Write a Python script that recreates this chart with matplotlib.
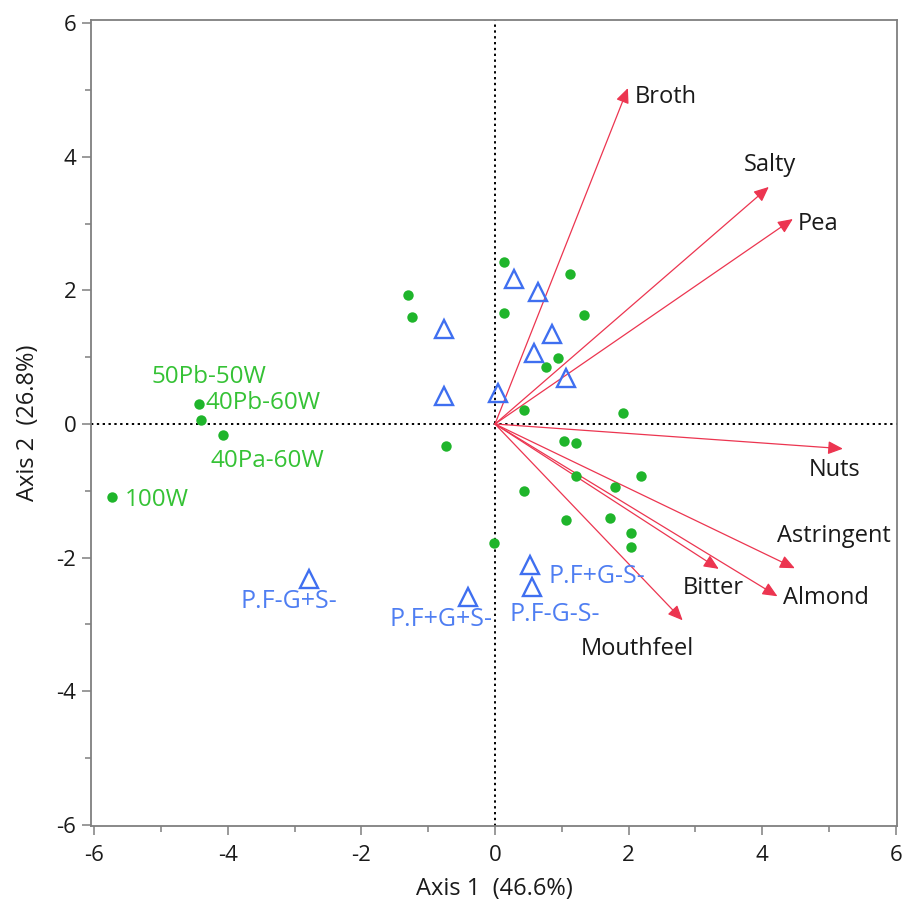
import matplotlib
matplotlib.use("Agg")
import matplotlib.pyplot as plt

plt.rcParams['font.family'] = ['Open Sans', 'DejaVu Sans']

# ---- data ----
green_x = [0.13, 1.12, -1.30, -1.24, 0.13, 1.34, 0.94, 0.77, 0.44, 1.91,
           -4.44, -4.41, -4.08, -0.73, 1.04, 1.22, 1.22, 2.19, 1.79, 0.44,
           1.07, 1.72, 2.03, 2.04, -0.02, -5.73]
green_y = [2.43, 2.24, 1.93, 1.60, 1.66, 1.63, 0.99, 0.85, 0.21, 0.16,
           0.30, 0.06, -0.16, -0.33, -0.25, -0.28, -0.78, -0.78, -0.94, -1.01,
           -1.44, -1.41, -1.63, -1.84, -1.78, -1.09]

tri_x = [0.28, 0.64, -0.77, 0.86, 0.59, 1.07, -0.77, 0.04, -2.79, -0.40, 0.52, 0.56]
tri_y = [2.17, 1.98, 1.42, 1.35, 1.06, 0.69, 0.42, 0.46, -2.32, -2.59, -2.11, -2.44]

attr_names = ['Broth', 'Salty', 'Pea', 'Nuts', 'Astringent', 'Almond', 'Bitter', 'Mouthfeel']
attr_x = [1.99, 4.10, 4.46, 5.21, 4.49, 4.23, 3.35, 2.81]
attr_y = [5.03, 3.55, 3.07, -0.37, -2.16, -2.58, -2.17, -2.94]
attr_label_x = [2.10, 3.72, 4.53, 4.70, 4.23, 4.32, 2.81, 1.28]
attr_label_y = [4.80, 3.79, 2.90, -0.78, -1.76, -2.70, -2.55, -3.46]

green_labels = ['50Pb-50W', '40Pb-60W', '40Pa-60W', '100W']
green_label_x = [-5.15, -4.34, -4.26, -5.54]
green_label_y = [0.61, 0.22, -0.64, -1.23]

blue_labels = ['P.F-G+S-', 'P.F+G+S-', 'P.F+G-S-', 'P.F-G-S-']
blue_label_x = [-3.81, -1.58, 0.80, 0.21]
blue_label_y = [-2.76, -3.03, -2.38, -2.95]

x_ticks = [-6, -4, -2, 0, 2, 4, 6]
y_ticks = [-6, -4, -2, 0, 2, 4, 6]

# ---- styles ----
GREEN = '#1fb52b'
GREEN_T = '#35c235'
BLUE = '#3f6ff0'
BLUE_T = '#4f7ef2'
RED = '#ec3550'
FRAME = '#7f7f7f'

W, H = 904, 906
fig = plt.figure(figsize=(W / 100, H / 100), dpi=100)
ax = fig.add_axes([91 / W, 1 - 826 / H, (897 - 91) / W, (826 - 20) / H])

ax.set_xlim(-6.05, 6.02)
ax.set_ylim(-6.02, 6.05)

ax.axhline(0, color='black', ls=(0, (1.2, 1.8)), lw=1.4, zorder=1)
ax.axvline(0, color='black', ls=(0, (1.2, 1.8)), lw=1.4, zorder=1)

for nm, tx, ty in zip(attr_names, attr_x, attr_y):
    ax.annotate('', xy=(tx, ty), xytext=(0, 0),
                arrowprops=dict(arrowstyle='-|>,head_length=0.45,head_width=0.2',
                                mutation_scale=20, color=RED, lw=0.9,
                                shrinkA=0, shrinkB=0), zorder=3)
for nm, lx, ly in zip(attr_names, attr_label_x, attr_label_y):
    ax.text(lx, ly, nm, fontsize=17, color='#1a1a1a', ha='left', va='baseline')

ax.plot(green_x, green_y, 'o', color=GREEN, ms=7.5, mec='none', zorder=4)
ax.plot(tri_x, tri_y, '^', mfc='none', mec=BLUE, ms=13, mew=1.7, zorder=4)

for nm, lx, ly in zip(green_labels, green_label_x, green_label_y):
    ax.text(lx, ly, nm, fontsize=17.5, color=GREEN_T, ha='left', va='baseline')
for nm, lx, ly in zip(blue_labels, blue_label_x, blue_label_y):
    ax.text(lx, ly, nm, fontsize=18, color=BLUE_T, ha='left', va='baseline')

ax.set_xticks(x_ticks)
ax.set_yticks(y_ticks)
ax.set_xticks([-5, -3, -1, 1, 3, 5], minor=True)
ax.set_yticks([-5, -3, -1, 1, 3, 5], minor=True)
ax.set_xticklabels([str(v) for v in x_ticks])
ax.set_yticklabels([str(v) for v in y_ticks])
ax.tick_params(which='major', direction='out', length=6.5, width=1.1, color=FRAME,
               labelsize=16, labelcolor='#1a1a1a')
ax.tick_params(which='minor', direction='out', length=4, width=1.1, color=FRAME)
ax.tick_params(axis='x', which='major', pad=7)
ax.tick_params(axis='y', which='major', pad=4)
for s in ax.spines.values():
    s.set_color(FRAME)
    s.set_linewidth(1.3)

ax.set_xlabel('Axis 1  (46.6%)', fontsize=17, color='#1a1a1a', labelpad=8)
ax.set_ylabel('Axis 2  (26.8%)', fontsize=17, color='#1a1a1a', labelpad=12)

fig.savefig('out.png', dpi=100)
